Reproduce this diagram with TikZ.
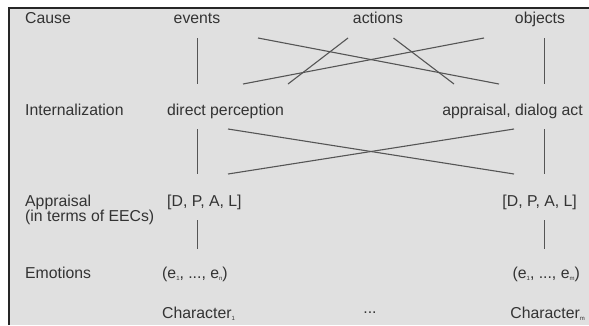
\documentclass[tikz,border=0pt]{standalone}
\usepackage{fontspec}
\setmainfont{Liberation Sans}
\usepackage{xcolor}
\definecolor{panelgray}{HTML}{E0E0E0}
\definecolor{linegray}{HTML}{555555}
\definecolor{textgray}{HTML}{333333}
\newcommand{\lowsub}[1]{\raisebox{-2.5pt}{\fontsize{6}{6}\selectfont #1}}

\begin{document}
\begin{tikzpicture}
  [x=1pt,y=-1pt,every node/.style={inner sep=0pt,text=textgray,font=\fontsize{15.8}{18}\selectfont}]
  \useasboundingbox (0,0) rectangle (589,325);
  \fill[panelgray] (9,7.5) rectangle (589,325);
  \draw[line width=2pt,black!85] (9,325) -- (9,7.5) -- (589,7.5);

  % row labels
  \node[anchor=base west] (cause) at (25,23) {Cause};
  \node[anchor=base west] (intern) at (25,115) {Internalization};
  \node[anchor=base west] (appr) at (25,206) {Appraisal};
  \node[anchor=base west] (apprnote) at (25,221) {(in terms of EECs)};
  \node[anchor=base west] (emo) at (25,278) {Emotions};

  % top row
  \node[anchor=base] (events) at (197,23) {events};
  \node[anchor=base] (actions) at (378,23) {actions};
  \node[anchor=base] (objects) at (540,23) {objects};

  % left character
  \node[anchor=base west] (perc) at (167,115) {direct perception};
  \node[anchor=base west] (dpal) at (167,206) {[D, P, A, L]};
  \node[anchor=base west] (emol) at (162,278) {(e\lowsub{1}, ..., e\lowsub{n})};
  \node[anchor=base west] (charl) at (162,318) {Character\lowsub{1}};

  % right character
  \node[anchor=base east] (dialog) at (583,115) {appraisal, dialog act};
  \node[anchor=base east] (dpar) at (577,206) {[D, P, A, L]};
  \node[anchor=base east] (emor) at (580,278) {(e\lowsub{1}, ..., e\lowsub{m})};
  \node[anchor=base east] (charr) at (585,318) {Character\lowsub{m}};
  \node[anchor=base] (dots) at (370,313) {...};

  % line ends
  \coordinate (t1) at (197.5,38);  \coordinate (u1) at (197.5,84);
  \coordinate (t2) at (258,38);    \coordinate (u2) at (243,84);
  \coordinate (t3) at (348,38);    \coordinate (u3) at (288,84);
  \coordinate (t4) at (393.5,38);  \coordinate (u4) at (454,84);
  \coordinate (t5) at (484,38);    \coordinate (u5) at (499,84);
  \coordinate (t6) at (544.5,38);  \coordinate (u6) at (544.5,84);

  \coordinate (m1) at (197.5,129); \coordinate (n1) at (197.5,174);
  \coordinate (m2) at (228,129);   \coordinate (n2) at (228,174);
  \coordinate (m3) at (514,129);   \coordinate (n3) at (514,174);
  \coordinate (m4) at (544.5,129); \coordinate (n4) at (544.5,174);

  \coordinate (p1) at (197.5,220); \coordinate (q1) at (197.5,249);
  \coordinate (p2) at (544.5,220); \coordinate (q2) at (544.5,249);

  \foreach \from/\to in {t1/u1,t2/u5,t3/u3,t4/u4,t5/u2,t6/u6,
                         m1/n1,m2/n3,n2/m3,m4/n4,p1/q1,p2/q2}
    \draw[linegray,line width=1.1pt] (\from) -- (\to);

\end{tikzpicture}
\end{document}
